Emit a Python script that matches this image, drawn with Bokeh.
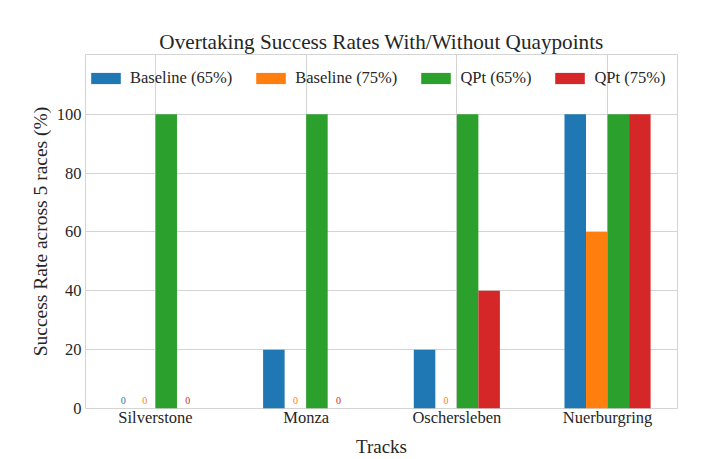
import numpy as np
from bokeh.plotting import figure
from bokeh.models import FixedTicker, Legend, LegendItem, ColumnDataSource
from bokeh.core.properties import value
from bokeh.embed import file_html
from bokeh.resources import INLINE

# ---- data ----
tracks = ["Silverstone", "Monza", "Oschersleben", "Nuerburgring"]
series_names = ["Baseline (65%)", "Baseline (75%)", "QPt (65%)", "QPt (75%)"]
baseline_65 = [0, 20, 20, 100]
baseline_75 = [0, 0, 0, 60]
qpt_65 = [100, 100, 100, 100]
qpt_75 = [0, 0, 40, 100]
y_ticks = [0, 20, 40, 60, 80, 100]

series_values = [baseline_65, baseline_75, qpt_65, qpt_75]
colors = ["#1f77b4", "#ff7f0e", "#2ca02c", "#d62728"]

FONT = "Liberation Serif"
TEXT = "#262626"
GRID = "#d4d4d4"

n = len(series_names)
bar_w = 1.0 / 7
pos = np.arange(len(tracks))
lo = -n * bar_w / 2
hi = len(tracks) - 1 + n * bar_w / 2
pad = 0.05 * (hi - lo)

p = figure(width=718, height=459, output_backend="svg", toolbar_location=None,
           x_range=(lo - pad, hi + pad), y_range=(0, 120.3),
           min_border_left=85, min_border_right=41, min_border_top=54, min_border_bottom=51)

p.background_fill_color = "white"
p.border_fill_color = "white"
p.outline_line_color = GRID
p.outline_line_width = 1

renderers = []
for i, (name, vals, col) in enumerate(zip(series_names, series_values, colors)):
    xs = pos + (i - (n - 1) / 2) * bar_w
    src = ColumnDataSource(dict(x=xs, top=vals))
    r = p.vbar(x="x", top="top", bottom=0, width=bar_w, source=src,
               fill_color=col, line_color=None)
    renderers.append(r)
    zx = [x for x, v in zip(xs, vals) if v == 0]
    if zx:
        zsrc = ColumnDataSource(dict(x=zx, y=[1.5] * len(zx), t=["0"] * len(zx)))
        p.text(x="x", y="y", text="t", source=zsrc, text_color=col,
               text_font=value(FONT), text_font_size="10px",
               text_align="center", text_baseline="bottom")

# axes
p.xaxis.ticker = FixedTicker(ticks=list(pos))
p.xaxis.major_label_overrides = {int(i): t for i, t in enumerate(tracks)}
p.yaxis.ticker = FixedTicker(ticks=y_ticks)
for ax in (p.xaxis[0], p.yaxis[0]):
    ax.axis_line_color = None
    ax.major_tick_line_color = None
    ax.minor_tick_line_color = None
    ax.major_tick_out = 0
    ax.major_tick_in = 0
    ax.major_label_text_font = FONT
    ax.major_label_text_font_size = "16.5px"
    ax.major_label_text_color = TEXT
    ax.axis_label_text_font = FONT
    ax.axis_label_text_font_style = "normal"
    ax.axis_label_text_color = TEXT

p.xaxis.axis_label = "Tracks"
p.xaxis.axis_label_text_font_size = "19px"
p.xaxis.major_label_standoff = -1
p.xaxis.axis_label_standoff = 6
p.yaxis.axis_label = "Success Rate across 5 races (%)"
p.yaxis.axis_label_text_font_size = "19.5px"
p.yaxis.major_label_standoff = 4
p.yaxis.axis_label_standoff = 3

p.xgrid.grid_line_color = GRID
p.ygrid.grid_line_color = GRID
p.xgrid.grid_line_width = 1
p.ygrid.grid_line_width = 1

# title
p.title.text = "Overtaking Success Rates With/Without Quaypoints"
p.title.align = "center"
p.title.text_font = FONT
p.title.text_font_size = "21.2px"
p.title.text_font_style = "normal"
p.title.text_color = TEXT
p.title.standoff = 1

# legend (kept inside the frame so it is not clipped)
items = [LegendItem(label=nm, renderers=[r]) for nm, r in zip(series_names, renderers)]
legend = Legend(items=items, orientation="horizontal", location=(2, 320),
                padding=0, margin=0, spacing=20, glyph_width=37, glyph_height=14,
                label_standoff=6, label_text_font=FONT, label_text_font_size="16.5px",
                label_text_color=TEXT, border_line_alpha=0, background_fill_alpha=0)
p.add_layout(legend)

open("out.html", "w").write(file_html(p, INLINE))
